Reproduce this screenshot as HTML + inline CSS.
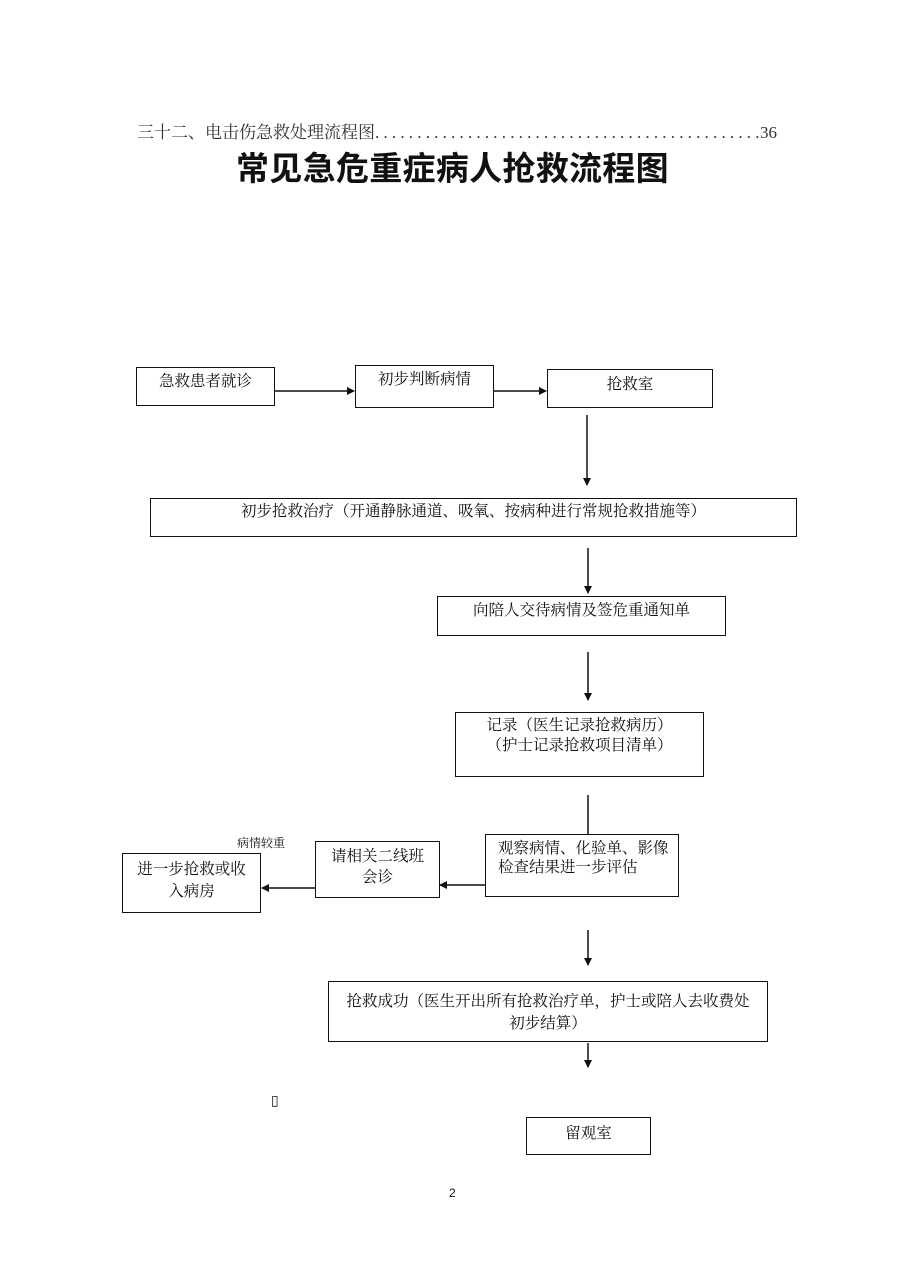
<!DOCTYPE html>
<html><head><meta charset="utf-8"><style>
body{margin:0;width:905px;height:1280px;background:#fff;position:relative;overflow:hidden;font-family:"Liberation Serif","Noto Serif CJK SC",serif;color:#111}
.b{position:absolute;border:1.5px solid #111;box-sizing:border-box;font-size:15.5px;line-height:20px;text-align:center}
.t{position:absolute;white-space:nowrap}
svg{position:absolute;left:0;top:0}
</style></head><body>
<div class="t" style="left:137px;top:118px;font-size:17px;width:640px;display:flex;align-items:baseline;color:#333"><span>三十二、电击伤急救处理流程图</span><span style="flex:1;overflow:hidden;letter-spacing:4.2px;font-size:17px">..........................................................</span><span>36</span></div>
<div class="t" style="left:236px;top:142px;font-size:33px;font-weight:bold;font-family:'Liberation Sans','Noto Sans CJK SC',sans-serif;letter-spacing:0.3px">常见急危重症病人抢救流程图</div>

<div class="b" style="left:136px;top:367px;width:139px;height:39px;padding-top:4px">急救患者就诊</div>
<div class="b" style="left:355px;top:365px;width:139px;height:43px;padding-top:4px">初步判断病情</div>
<div class="b" style="left:547px;top:369px;width:166px;height:39px;padding-top:5px">抢救室</div>
<div class="b" style="left:150px;top:498px;width:647px;height:39px;padding-top:3px">初步抢救治疗（开通静脉通道、吸氧、按病种进行常规抢救措施等）</div>
<div class="b" style="left:437px;top:596px;width:289px;height:40px;padding-top:4px">向陪人交待病情及签危重通知单</div>
<div class="b" style="left:455px;top:712px;width:249px;height:65px;padding-top:3px;line-height:20px">记录（医生记录抢救病历）<br>（护士记录抢救项目清单）</div>
<div class="b" style="left:485px;top:834px;width:194px;height:63px;padding:4px 0 0 12px;text-align:left;line-height:19px">观察病情、化验单、影像<br>检查结果进一步评估</div>
<div class="b" style="left:315px;top:841px;width:125px;height:57px;padding-top:4px;line-height:21px">请相关二线班<br>会诊</div>
<div class="b" style="left:122px;top:853px;width:139px;height:60px;padding-top:5px;line-height:22px">进一步抢救或收<br>入病房</div>
<div class="t" style="left:237px;top:834px;font-size:12px">病情较重</div>
<div class="b" style="left:328px;top:981px;width:440px;height:61px;padding-top:9px;line-height:22px">抢救成功（医生开出所有抢救治疗单，护士或陪人去收费处<br>初步结算）</div>
<div class="b" style="left:526px;top:1117px;width:125px;height:38px;padding-top:6px">留观室</div>
<div class="t" style="left:271px;top:1093px;font-size:14px">▯</div>
<div class="t" style="left:449px;top:1186px;font-size:12px;font-family:'Liberation Sans',sans-serif">2</div>

<svg width="905" height="1280">
<defs><marker id="a" markerWidth="8" markerHeight="8" refX="7" refY="4" orient="auto" markerUnits="userSpaceOnUse"><path d="M0,0 L8,4 L0,8 z" fill="#111"/></marker></defs>
<g stroke="#111" stroke-width="1.5" fill="none">
<line x1="275" y1="391" x2="354" y2="391" marker-end="url(#a)"/>
<line x1="494" y1="391" x2="546" y2="391" marker-end="url(#a)"/>
<line x1="587" y1="415" x2="587" y2="485" marker-end="url(#a)"/>
<line x1="588" y1="548" x2="588" y2="593" marker-end="url(#a)"/>
<line x1="588" y1="652" x2="588" y2="700" marker-end="url(#a)"/>
<line x1="588" y1="795" x2="588" y2="834"/>
<line x1="485" y1="885" x2="440" y2="885" marker-end="url(#a)"/>
<line x1="315" y1="888" x2="262" y2="888" marker-end="url(#a)"/>
<line x1="588" y1="930" x2="588" y2="965" marker-end="url(#a)"/>
<line x1="588" y1="1043" x2="588" y2="1067" marker-end="url(#a)"/>
</g></svg>
</body></html>
